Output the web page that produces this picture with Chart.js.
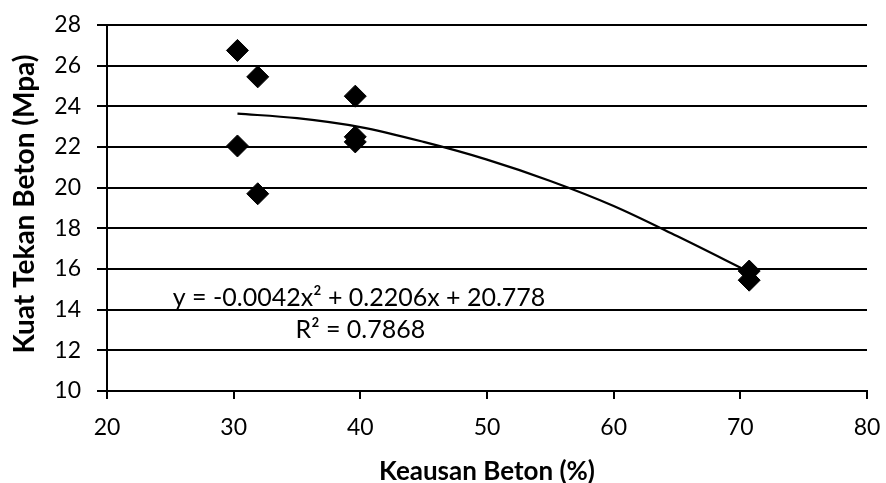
<!DOCTYPE html>
<html>
<head>
<meta charset="utf-8">
<script src="https://cdn.jsdelivr.net/npm/chart.js@4.4.1/dist/chart.umd.min.js"></script>
<style>
  html, body { margin: 0; padding: 0; background: #fff; }
  #wrap { width: 886px; height: 483px; position: relative; }
</style>
</head>
<body>
<div id="wrap"><canvas id="c" width="886" height="483"></canvas></div>
<script>
// Measured samples: wear (%) and compressive strength (MPa)
const wearPct = [30.3, 31.9, 39.6, 30.3, 31.9, 39.6, 39.6, 70.7, 70.7];
const strengthMpa = [26.75, 25.45, 24.5, 22.05, 19.7, 22.5, 22.25, 15.9, 15.45];

// Polynomial trendline
const trendX = [30.3, 35, 40, 45, 50, 55, 60, 65, 70.7];
const trendY = [23.64, 23.42, 22.98, 22.25, 21.38, 20.33, 19.10, 17.62, 15.85];

// Trendline labels
const eqText = 'y = -0.0042x² + 0.2206x + 20.778';
const r2Text = 'R² = 0.7868';
const eqAnchor = [39.9, 14.17];
const r2Anchor = [40.0, 12.6];

// Axis settings
const xMin = 20, xMax = 80, xStep = 10;
const yMin = 10, yMax = 28, yStep = 2;
const xTitle = 'Keausan Beton (%)';
const yTitle = 'Kuat Tekan Beton (Mpa)';

const FONT = 'Lato, "Open Sans", sans-serif';

const annot = {
  id: 'annot',
  afterDatasetsDraw(chart) {
    const ctx = chart.ctx;
    const xs = chart.scales.x, ys = chart.scales.y;
    const area = chart.chartArea;
    ctx.save();
    ctx.fillStyle = '#000';
    ctx.textAlign = 'center';
    ctx.textBaseline = 'alphabetic';
    ctx.font = '25px ' + FONT;
    ctx.fillText(eqText, xs.getPixelForValue(eqAnchor[0]), ys.getPixelForValue(eqAnchor[1]));
    ctx.fillText(r2Text, xs.getPixelForValue(r2Anchor[0]), ys.getPixelForValue(r2Anchor[1]));
    // x axis title
    ctx.font = 'bold 26px ' + FONT;
    ctx.fillText(xTitle, (area.left + area.right) / 2, chart.height - 3);
    // y axis title
    ctx.font = 'bold 28px ' + FONT;
    ctx.textBaseline = 'middle';
    ctx.translate(25, (area.top + area.bottom) / 2 - 4);
    ctx.rotate(-Math.PI / 2);
    ctx.fillText(yTitle, 0, 0);
    ctx.restore();
  }
};

new Chart(document.getElementById('c'), {
  type: 'scatter',
  data: {
    datasets: [
      {
        label: 'Trend',
        type: 'line',
        data: trendX.map((x, i) => ({ x, y: trendY[i] })),
        borderColor: '#000',
        borderWidth: 2.2,
        pointRadius: 0,
        fill: false,
        cubicInterpolationMode: 'monotone',
        order: 0
      },
      {
        label: 'Data',
        data: wearPct.map((x, i) => ({ x, y: strengthMpa[i] })),
        pointStyle: 'rectRot',
        pointRadius: 11,
        pointBackgroundColor: '#000',
        pointBorderColor: '#000',
        pointBorderWidth: 1,
        order: 1
      }
    ]
  },
  options: {
    responsive: false,
    animation: false,
    layout: { padding: { left: 0, right: 19, top: 25, bottom: 0 } },
    plugins: { legend: { display: false }, tooltip: { enabled: false } },
    scales: {
      x: {
        type: 'linear',
        min: xMin, max: xMax,
        ticks: { stepSize: xStep, color: '#000', font: { family: FONT, size: 23 }, padding: 15, maxRotation: 0 },
        grid: { drawOnChartArea: false, drawTicks: true, tickLength: 8, color: '#000', lineWidth: 2 },
        border: { display: true, color: '#000', width: 2 },
        afterFit(scale) { scale.height = 483 - 391; scale.paddingLeft = 0; scale.paddingRight = 0; }
      },
      y: {
        min: yMin, max: yMax,
        ticks: { stepSize: yStep, color: '#000', font: { family: FONT, size: 23 }, padding: 16 },
        grid: { drawOnChartArea: true, drawTicks: true, tickLength: 10, color: '#000', lineWidth: 2 },
        border: { display: true, color: '#000', width: 2 },
        afterFit(scale) { scale.width = 107; scale.paddingTop = 0; scale.paddingBottom = 0; }
      }
    }
  },
  plugins: [annot]
});
</script>
</body>
</html>
